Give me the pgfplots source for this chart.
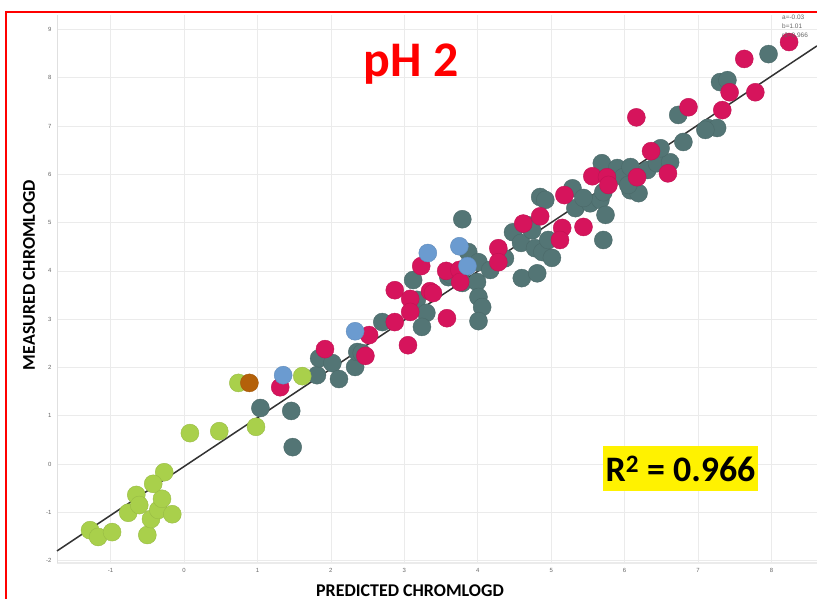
\documentclass[border=0pt]{standalone}
\usepackage{pgfplots}
\pgfplotsset{compat=1.18}
\usepackage{fontspec}
\setmainfont{Carlito}
\newfontfamily\tickfont{Liberation Sans}
\definecolor{cteal}{HTML}{537575}
\definecolor{ccrim}{HTML}{D6145C}
\definecolor{cblue}{HTML}{6B9BD0}
\definecolor{cgreen}{HTML}{A9D04B}
\definecolor{cbrown}{HTML}{B4610A}
\begin{document}
\begin{tikzpicture}
\begin{axis}[name=ax, scale only axis, width=760bp, height=548bp,
  xmin=-1.73, xmax=8.62, ymin=-2.05, ymax=9.30,
  xtick={-1,0,...,8}, ytick={-2,-1,...,9},
  grid=major, major grid style={color=black!8, line width=0.6bp},
  axis lines*=left, axis line style={black!12, line width=1bp},
  x axis line style={line width=2.5bp, black!8},
  major tick length=0pt,
  tick label style={font=\tickfont\fontsize{6}{7}\selectfont, text=black!60},
  /pgf/number format/assume math mode=true,
  xticklabel style={yshift=-2bp}, yticklabel style={xshift=-2bp},
  clip=false,
  every axis plot/.append style={only marks, mark=*, mark size=9bp}]
\addplot[mark options={fill=cteal, draw=cteal!90!black, line width=0.4bp}] coordinates {
(1.04,1.16)(1.46,1.10)(1.48,0.35)(1.81,1.84)(1.84,2.19)(2.02,2.09)(2.11,1.76)(2.33,2.01)
(2.36,2.32)(2.42,2.30)(2.70,2.94)(3.12,3.81)(3.17,3.40)(3.30,3.13)(3.24,2.84)(3.79,5.07)
(3.60,3.87)(3.79,4.02)(3.87,4.39)(3.79,3.75)(4.01,4.18)(3.99,3.77)(4.01,3.46)(4.06,3.25)
(4.01,2.96)(4.17,4.02)(4.37,4.26)(4.48,4.80)(4.59,4.58)(4.60,3.85)(4.67,4.95)(4.81,3.95)
(4.74,4.84)(4.78,4.47)(4.88,4.39)(5.01,4.27)(4.96,4.64)(4.85,5.53)(4.92,5.47)(5.29,5.71)
(5.33,5.30)(5.53,5.40)(5.67,5.47)(5.71,5.63)(5.74,5.16)(5.71,4.64)(5.69,6.23)(5.90,6.13)
(5.98,5.94)(6.08,5.67)(6.19,5.61)(6.08,6.15)(6.31,6.09)(6.44,6.23)(6.62,6.25)(6.49,6.54)
(6.80,6.67)(6.05,5.78)(6.73,7.23)(7.13,6.96)(7.26,6.96)(7.10,6.92)(7.30,7.91)(7.40,7.95)
(7.96,8.49)(5.44,5.51)(3.63,3.92)};
\addplot[mark options={fill=ccrim, draw=ccrim!90!black, line width=0.4bp}] coordinates {
(1.31,1.59)(1.92,2.38)(2.47,2.24)(2.52,2.67)(2.87,3.60)(2.87,2.94)(3.05,2.46)(3.23,4.10)
(3.08,3.42)(3.08,3.15)(3.35,3.58)(3.39,3.54)(3.58,3.02)(3.57,4.00)(3.75,4.02)(3.76,3.77)
(4.28,4.47)(4.28,4.18)(4.62,4.98)(4.85,5.13)(5.15,4.89)(5.12,4.64)(5.18,5.57)(5.44,4.91)
(5.56,5.96)(5.76,5.94)(5.78,5.78)(6.17,5.94)(6.36,6.48)(6.59,6.02)(6.16,7.18)(6.87,7.39)
(7.43,7.70)(7.33,7.33)(7.63,8.39)(7.78,7.70)(8.24,8.74)};
\addplot[mark options={fill=cblue, draw=cblue!90!black, line width=0.4bp}] coordinates {
(1.35,1.84)(2.33,2.75)(3.32,4.37)(3.75,4.51)(3.86,4.10)};
\addplot[mark options={fill=cgreen, draw=cgreen!90!black, line width=0.4bp}] coordinates {
(-1.28,-1.37)(-1.17,-1.51)(-0.98,-1.41)(-0.76,-1.01)(-0.65,-0.64)(-0.61,-0.85)(-0.50,-1.47)
(-0.45,-1.14)(-0.35,-0.95)(-0.30,-0.72)(-0.27,-0.17)(-0.16,-1.04)(-0.42,-0.41)(0.08,0.64)
(0.48,0.68)(0.98,0.77)(0.74,1.68)(1.61,1.82)};
\addplot[mark options={fill=cbrown, draw=cbrown!90!black, line width=0.4bp}] coordinates {(0.89,1.68)};
\addplot[no marks, sharp plot, black!80, line width=1.5bp] coordinates {(-1.73,-1.80) (8.62,8.66)};
\end{axis}
\node[font=\bfseries\fontsize{50}{50}\selectfont, text=red, anchor=base] at ([xshift=354bp, yshift=486bp]ax.south west) {pH 2};
\node[font=\bfseries\fontsize{18}{18}\selectfont, anchor=base] at ([xshift=353bp, yshift=-33bp]ax.south west) {PREDICTED CHROMLOGD};
\node[font=\bfseries\fontsize{18}{18}\selectfont, rotate=90, anchor=center] at ([xshift=-28bp, yshift=288bp]ax.south west) {MEASURED CHROMLOGD};
\node[fill=yellow, minimum width=155bp, minimum height=45bp, inner sep=0pt, font=\bfseries\fontsize{36}{36}\selectfont] at ([xshift=623.5bp, yshift=94.5bp]ax.south west) {R\textsuperscript{2} = 0.966};
\node[anchor=north west, align=left, inner sep=0pt, text=black!60, font=\tickfont\fontsize{6.5}{9}\selectfont] at ([xshift=725bp, yshift=548bp]ax.south west) {a=-0.03\\b=1.01\\r2=0.966};
\draw[red, line width=2bp] ([xshift=-51bp, yshift=-60bp]ax.south west) |- ([xshift=800bp, yshift=551bp]ax.south west);
\pgfresetboundingbox
\path[use as bounding box] ([xshift=-57bp, yshift=-36bp]ax.south west) rectangle ([xshift=760bp, yshift=563bp]ax.south west);
\end{tikzpicture}
\end{document}
